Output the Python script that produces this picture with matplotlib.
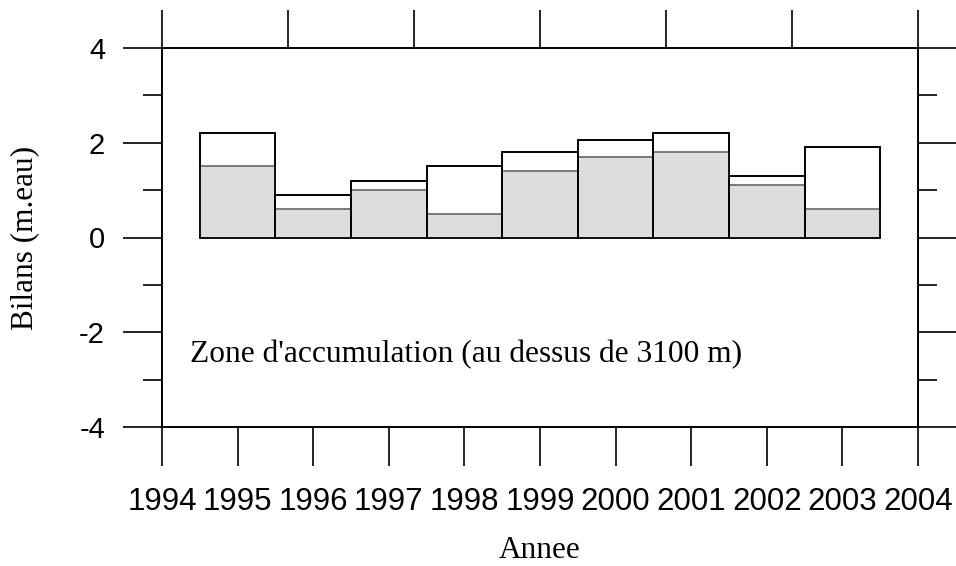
import matplotlib
matplotlib.use("Agg")
import matplotlib.pyplot as plt
from matplotlib.ticker import MultipleLocator, FixedLocator, NullFormatter

years = [1995, 1996, 1997, 1998, 1999, 2000, 2001, 2002, 2003]
total = [2.2, 0.9, 1.2, 1.5, 1.8, 2.05, 2.2, 1.3, 1.9]
part = [1.5, 0.6, 1.0, 0.5, 1.4, 1.7, 1.8, 1.1, 0.6]
xticks = list(range(1994, 2005))
yticks = [-4, -2, 0, 2, 4]
ylabel = "Bilans (m.eau)"
xlabel = "Annee"
note = "Zone d'accumulation (au dessus de 3100 m)"

W, H = 956, 566
fig = plt.figure(figsize=(W / 100, H / 100), dpi=100)
L, R, T, B = 162, 918, 48, 427
ax = fig.add_axes([L / W, (H - B) / H, (R - L) / W, (B - T) / H])

sans = "Liberation Sans"
serif = "Liberation Serif"
lw = 1.2

ax.bar(years, total, width=1.0, color="white", edgecolor="black", linewidth=lw, zorder=2)
ax.bar(years, part, width=1.0, color="#dddddd", edgecolor="#666666", linewidth=lw, zorder=3)
ax.bar(years, total, width=1.0, color="none", edgecolor="black", linewidth=lw, zorder=4)

ax.set_xlim(1994, 2004)
ax.set_ylim(-4, 4)

for s in ax.spines.values():
    s.set_linewidth(lw)

ax.xaxis.set_major_locator(FixedLocator(xticks))
ax.set_xticklabels([str(x) for x in xticks], fontfamily=sans, fontsize=22.5)
ax.tick_params(axis="x", which="major", direction="out", length=28, width=lw, pad=15,
               bottom=True, top=False)

ax.yaxis.set_major_locator(FixedLocator(yticks))
ax.yaxis.set_minor_locator(MultipleLocator(1))
ax.set_yticklabels([str(y) for y in yticks], fontfamily=sans, fontsize=21)
ax.tick_params(axis="y", which="major", direction="out", length=28, width=lw, pad=13,
               left=True, right=True)
ax.tick_params(axis="y", which="minor", direction="out", length=14, width=lw,
               left=True, right=True)

# top axis with its own evenly spaced ticks (no labels)
ax2 = ax.twiny()
ax2.set_xlim(0, 6)
ax2.xaxis.set_major_locator(FixedLocator(range(7)))
ax2.xaxis.set_major_formatter(NullFormatter())
ax2.tick_params(axis="x", direction="out", length=27.5, width=lw, top=True, bottom=False)
for s in ax2.spines.values():
    s.set_linewidth(lw)

ax.text(1994.37, -2.64, note, fontfamily=serif, fontsize=22.6, va="baseline", ha="left", zorder=5)

fig.text(25 / W, (H - 237.5) / H, ylabel, rotation=90, fontfamily=serif, fontsize=22.5,
         ha="center", va="center")
fig.text(540 / W, (H - 551) / H, xlabel, fontfamily=serif, fontsize=22.5,
         ha="center", va="center")

fig.savefig("out.png", dpi=100)
